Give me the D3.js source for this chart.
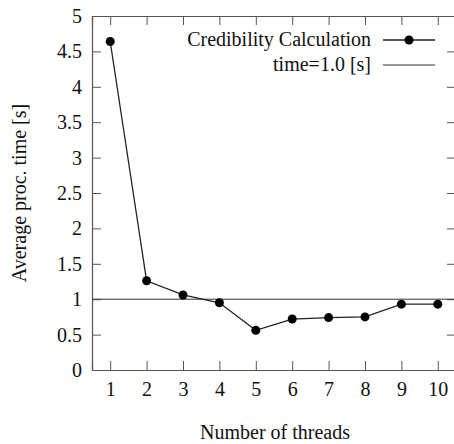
<!DOCTYPE html>
<html>
<head>
<meta charset="utf-8">
<script src="https://cdn.jsdelivr.net/npm/d3@7"></script>
<style>
  body { margin: 0; background: #fff; }
</style>
</head>
<body>
<div id="chart"></div>
<script>
// 数据
const threads = [1, 2, 3, 4, 5, 6, 7, 8, 9, 10];
const procTime = [4.64, 1.26, 1.06, 0.95, 0.56, 0.72, 0.74, 0.75, 0.93, 0.93];
const yTicks = [0, 0.5, 1, 1.5, 2, 2.5, 3, 3.5, 4, 4.5, 5];
const refTime = 1.0;
const legendLabels = ['Credibility Calculation', 'time=1.0 [s]'];

const width = 454, height = 444;
const margin = { top: 16, right: -2, bottom: 74, left: 92 };
const fontFamily = 'Liberation Serif';
const fontSize = 20;

const svg = d3.select('#chart').append('svg')
  .attr('width', width)
  .attr('height', height);

const x = d3.scaleLinear().domain([0.5, 10.5]).range([margin.left, width - margin.right]);
const y = d3.scaleLinear().domain([0, 5]).range([height - margin.bottom, margin.top]);

const frameColor = '#555';
const tickLen = 9;

// 坐标轴（刻度朝内）
const axisBottomG = svg.append('g')
  .attr('transform', `translate(0,${y(0)})`)
  .call(d3.axisBottom(x).tickValues(threads).tickSize(-tickLen).tickPadding(12).tickFormat(d3.format('d')));
const axisTopG = svg.append('g')
  .attr('transform', `translate(0,${y(5)})`)
  .call(d3.axisTop(x).tickValues(threads).tickSize(-tickLen).tickFormat(''));
const axisLeftG = svg.append('g')
  .attr('transform', `translate(${x(0.5)},0)`)
  .call(d3.axisLeft(y).tickValues(yTicks).tickSize(-tickLen).tickPadding(10).tickFormat(d3.format('')));
const axisRightG = svg.append('g')
  .attr('transform', `translate(${x(10.5)},0)`)
  .call(d3.axisRight(y).tickValues(yTicks).tickSize(-tickLen).tickFormat(''));

[axisBottomG, axisTopG, axisLeftG, axisRightG].forEach(g => {
  g.attr('font-family', fontFamily).attr('font-size', fontSize);
  g.select('.domain').attr('stroke', frameColor).attr('stroke-width', 1.2);
  g.selectAll('.tick line').attr('stroke', frameColor).attr('stroke-width', 1);
  g.selectAll('.tick text')
    .attr('font-family', fontFamily)
    .attr('font-size', fontSize)
    .attr('fill', '#111');
});

// time=1.0 参考线
svg.append('line')
  .attr('x1', x(0.5)).attr('x2', x(10.5))
  .attr('y1', y(refTime)).attr('y2', y(refTime))
  .attr('stroke', '#333')
  .attr('stroke-width', 1);

// 数据折线
const pts = threads.map((t, i) => ({ t, v: procTime[i] }));
svg.append('path')
  .datum(pts)
  .attr('fill', 'none')
  .attr('stroke', '#222')
  .attr('stroke-width', 1.3)
  .attr('d', d3.line().x(d => x(d.t)).y(d => y(d.v)));

svg.append('g').selectAll('circle')
  .data(pts)
  .enter().append('circle')
  .attr('cx', d => x(d.t))
  .attr('cy', d => y(d.v))
  .attr('r', 4.5)
  .attr('fill', '#000');

// 图例
const legend = svg.append('g');
const legY = [40, 65];
legend.selectAll('text')
  .data(legendLabels)
  .enter().append('text')
  .attr('x', 371)
  .attr('y', (d, i) => legY[i])
  .attr('dy', '0.32em')
  .attr('text-anchor', 'end')
  .attr('font-family', fontFamily)
  .attr('font-size', fontSize)
  .attr('fill', '#111')
  .text(d => d);
legend.selectAll('line')
  .data(legendLabels)
  .enter().append('line')
  .attr('x1', 383).attr('x2', 435)
  .attr('y1', (d, i) => legY[i]).attr('y2', (d, i) => legY[i])
  .attr('stroke', (d, i) => i === 0 ? '#222' : '#333')
  .attr('stroke-width', (d, i) => i === 0 ? 1.3 : 1);
legend.append('circle')
  .attr('cx', 409).attr('cy', legY[0]).attr('r', 4.5).attr('fill', '#000');

// 轴标题
svg.append('text')
  .attr('x', 275)
  .attr('y', 433)
  .attr('dy', '0.32em')
  .attr('text-anchor', 'middle')
  .attr('font-family', fontFamily)
  .attr('font-size', fontSize)
  .attr('fill', '#111')
  .text('Number of threads');

svg.append('text')
  .attr('transform', `translate(20,${(y(0) + y(5)) / 2}) rotate(-90)`)
  .attr('dy', '0.32em')
  .attr('text-anchor', 'middle')
  .attr('font-family', fontFamily)
  .attr('font-size', fontSize)
  .attr('fill', '#111')
  .text('Average proc. time [s]');
</script>
</body>
</html>
